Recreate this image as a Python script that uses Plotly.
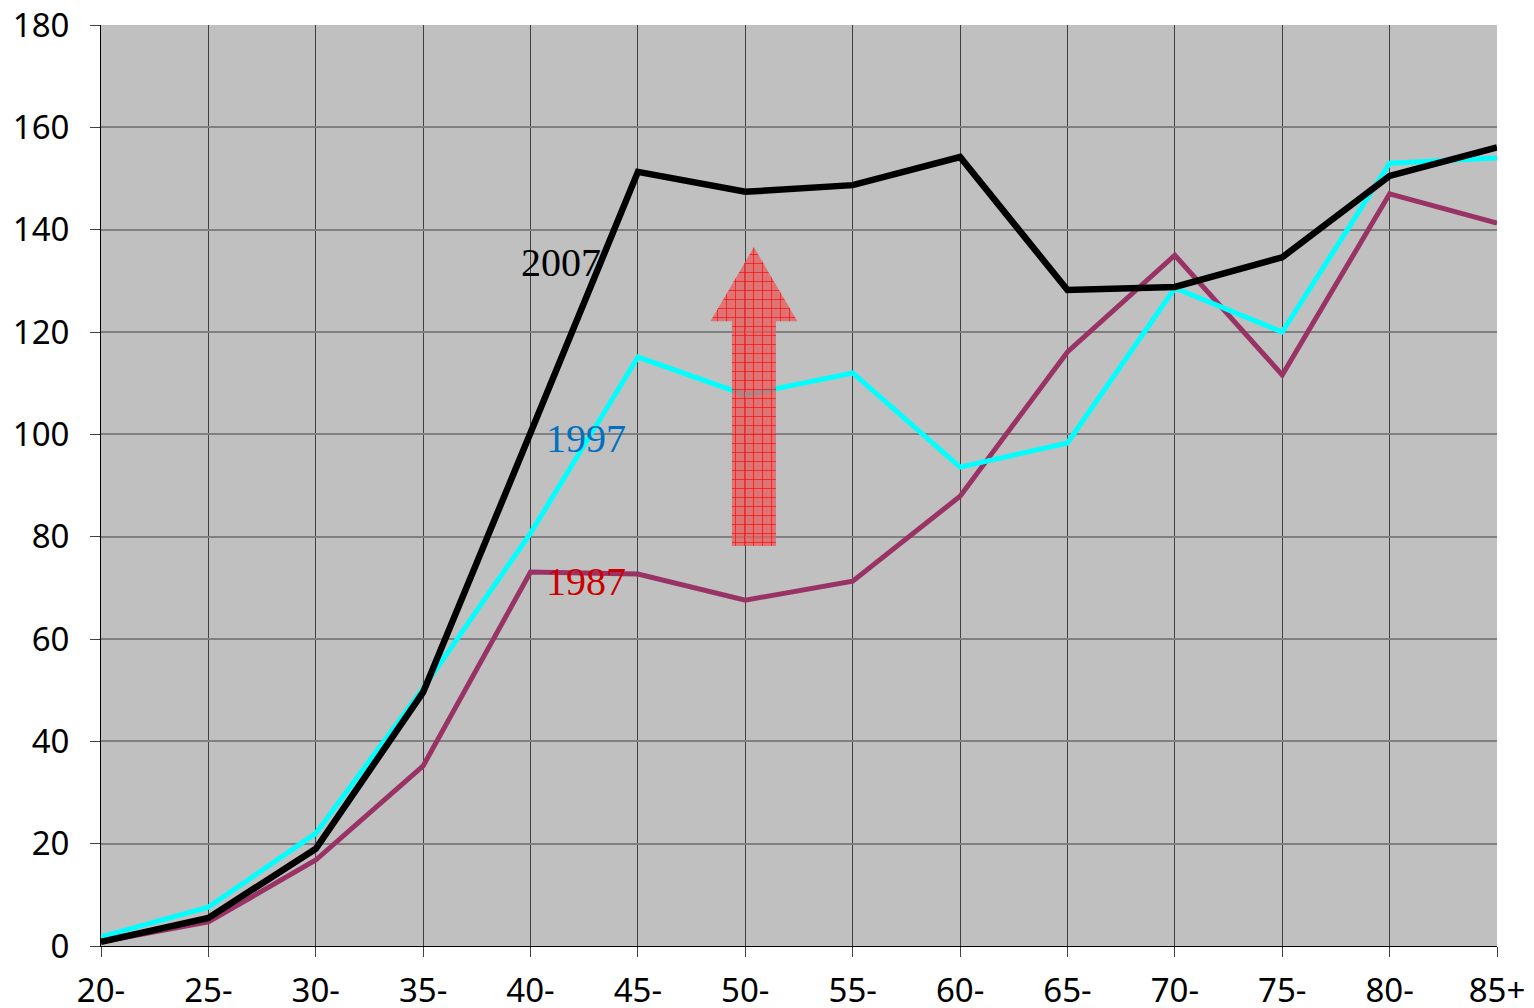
import plotly.graph_objects as go

categories = ["20-", "25-", "30-", "35-", "40-", "45-", "50-", "55-", "60-", "65-", "70-", "75-", "80-", "85+"]
y1987 = [0.8, 4.7, 16.8, 35.2, 73.1, 72.7, 67.6, 71.3, 87.9, 116.1, 135.0, 111.6, 147.0, 141.3]
y1997 = [1.8, 7.6, 22.0, 50.4, 80.7, 115.1, 107.7, 112.0, 93.6, 98.3, 128.6, 120.0, 153.0, 154.0]
y2007 = [0.8, 5.5, 19.0, 49.6, 100.3, 151.3, 147.4, 148.7, 154.2, 128.2, 128.8, 134.6, 150.5, 156.1]
y_ticks = [0, 20, 40, 60, 80, 100, 120, 140, 160, 180]

xs = list(range(len(categories)))

fig = go.Figure()
fig.add_trace(go.Scatter(x=xs, y=y1987, mode="lines", line=dict(color="#993366", width=5), name="1987"))
fig.add_trace(go.Scatter(x=xs, y=y1997, mode="lines", line=dict(color="#00FFFF", width=5), name="1997"))
fig.add_trace(go.Scatter(x=xs, y=y2007, mode="lines", line=dict(color="#000000", width=6.5), name="2007"))

# Arrow (decoration) in data coordinates
cx = 6.08
head_hw, body_hw = 0.405, 0.205
tip, head_base, bottom = 136.6, 122.1, 78.2
ax = [cx - body_hw, cx - body_hw, cx - head_hw, cx, cx + head_hw, cx + body_hw, cx + body_hw, cx - body_hw]
ay = [bottom, head_base, head_base, tip, head_base, head_base, bottom, bottom]
fig.add_trace(go.Scatter(
    x=ax, y=ay, mode="lines", fill="toself",
    line=dict(width=0, color="rgba(0,0,0,0)"),
    fillcolor="rgba(240,80,80,0.75)",
    fillpattern=dict(shape="+", fgcolor="rgba(255,0,0,0.9)", bgcolor="rgba(235,90,90,0.75)",
                     size=9, solidity=0.15, fillmode="replace"),
    hoverinfo="skip",
))

fig.add_annotation(x=4.28, y=133.5, text="2007", showarrow=False,
                   font=dict(family="Liberation Serif", size=40, color="#000000"))
fig.add_annotation(x=4.52, y=99.2, text="1997", showarrow=False,
                   font=dict(family="Liberation Serif", size=40, color="#0070C0"))
fig.add_annotation(x=4.52, y=71.3, text="1987", showarrow=False,
                   font=dict(family="Liberation Serif", size=40, color="#CC0000"))

fig.update_layout(
    width=1534, height=1008,
    margin=dict(l=93, r=45, t=17, b=70),
    paper_bgcolor="white",
    plot_bgcolor="#C0C0C0",
    showlegend=False,
    font=dict(family="Noto Sans", size=33, color="black"),
)
fig.update_xaxes(
    range=[0, 13], tickmode="array", tickvals=xs, ticktext=categories,
    showgrid=True, gridcolor="#404040", gridwidth=1,
    ticks="outside", ticklen=10, tickcolor="#404040",
    showline=True, linecolor="black", linewidth=1, zeroline=False,
    tickfont=dict(family="Noto Sans", size=33), automargin=False,
    ticklabelstandoff=5, ticklabeloverflow="allow",
)
fig.update_yaxes(
    range=[0, 180], tickmode="array", tickvals=y_ticks,
    showgrid=True, gridcolor="#808080", gridwidth=2,
    ticks="outside", ticklen=10, tickcolor="#404040",
    showline=True, linecolor="black", linewidth=1, zeroline=False,
    tickfont=dict(family="Noto Sans", size=33), automargin=False,
    ticklabelstandoff=14, ticklabeloverflow="allow",
)

fig.write_html("out.html")
